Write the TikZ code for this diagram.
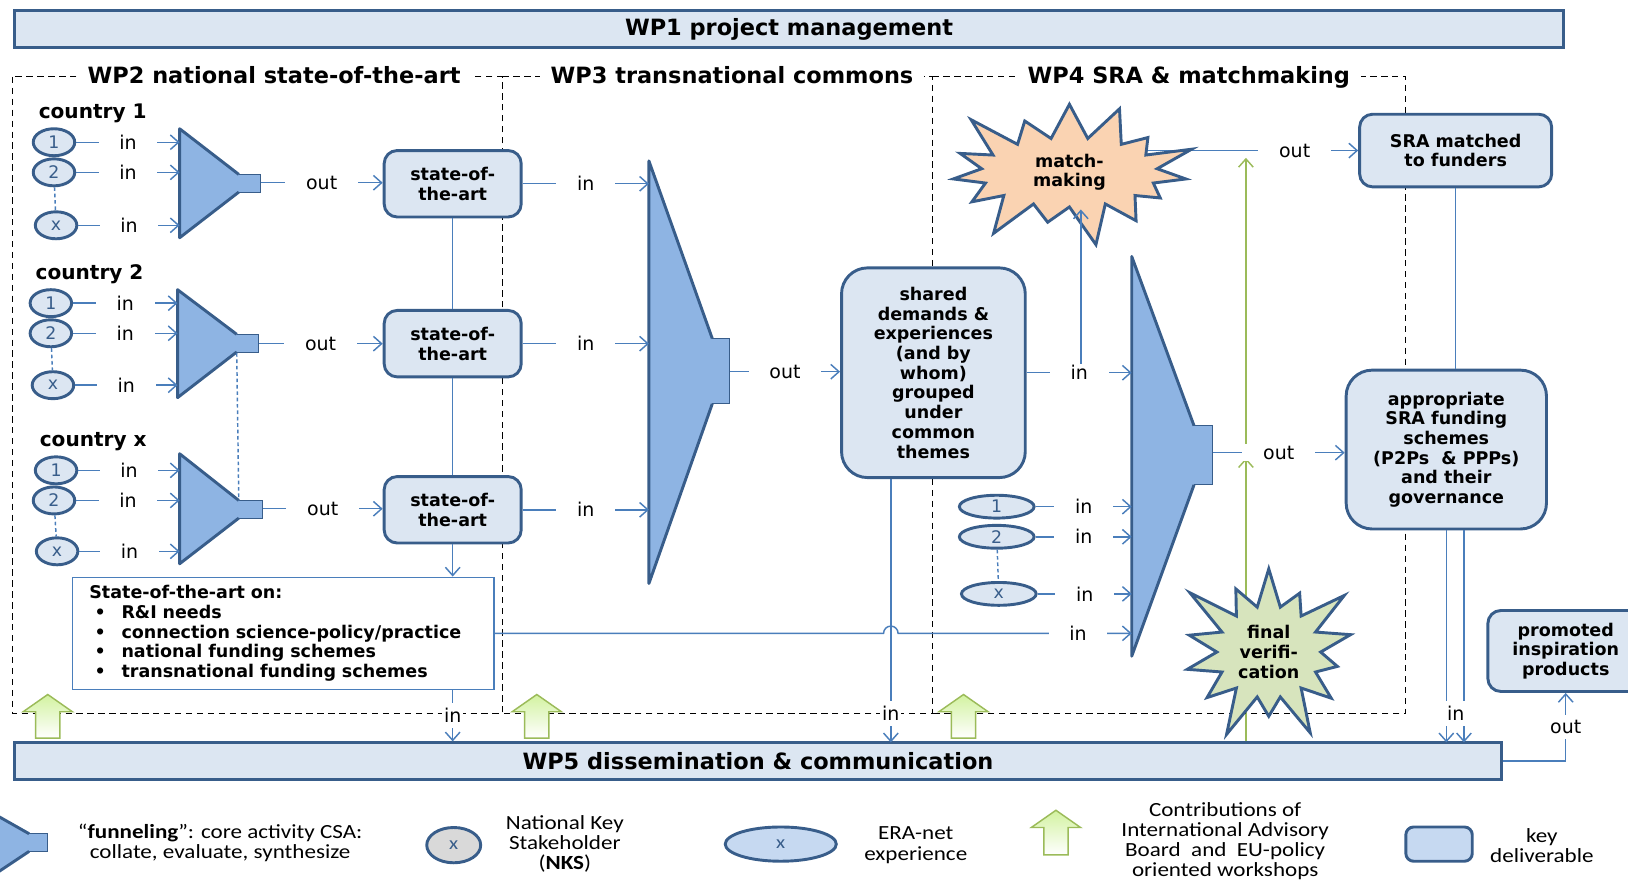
\documentclass[tikz,border=0pt]{standalone}
\usepackage{fontspec}
\setmainfont{DejaVu Sans}
\newfontfamily\legendfont[FakeStretch=1.15]{Carlito}
\usetikzlibrary{shapes.geometric,shapes.symbols,shapes.arrows,arrows.meta,backgrounds}

\definecolor{darkb}{HTML}{385D8A}
\definecolor{lightb}{HTML}{DCE6F2}
\definecolor{funb}{HTML}{8EB4E3}
\definecolor{lineb}{HTML}{4A7EBB}
\definecolor{peach}{HTML}{FAD3B2}
\definecolor{sage}{HTML}{D7E4BD}
\definecolor{grn}{HTML}{9BBB59}
\definecolor{lightgrn}{HTML}{D2F2A0}
\definecolor{legb}{HTML}{C6D9F1}
\definecolor{nksgray}{HTML}{D9D9D9}

\tikzset{
  frame/.style={draw=black, line width=0.7pt, dash pattern=on 3.5pt off 2.5pt},
  frametitle/.style={fill=white, inner xsep=6pt, inner ysep=1pt, text height=1.6ex, text depth=0.3ex, font=\fontsize{12.3}{14}\selectfont\bfseries},
  wpbar/.style={draw=darkb, fill=lightb, line width=1.6pt, minimum height=0.7cm, font=\fontsize{12.3}{14}\selectfont\bfseries},
  deliv/.style={draw=darkb, fill=lightb, line width=1.6pt, rounded corners=0.25cm, align=center, font=\fontsize{9.6}{10.8}\selectfont\bfseries},
  nks/.style={ellipse, draw=darkb, fill=lightb, line width=1.6pt, minimum width=0.8cm, minimum height=0.52cm, inner sep=0pt, text=darkb, font=\fontsize{9.5}{11}\selectfont},
  era/.style={nks, minimum width=1.44cm, minimum height=0.44cm},
  cty/.style={anchor=west, inner sep=0pt, font=\fontsize{11}{13}\selectfont\bfseries},
  plain/.style={draw=lineb, line width=0.8pt},
  conn/.style={plain, -{Straight Barb[length=4.5pt, width=8pt]}},
  dconn/.style={plain, dash pattern=on 2pt off 1.5pt},
  lab/.style={fill=white, inner xsep=0.4cm, inner ysep=1pt, font=\fontsize{10.4}{12}\selectfont},
  labv/.style={lab, inner xsep=1pt, inner ysep=3pt},
  funline/.style={draw=darkb, line width=1.6pt, line join=round},
  neckline/.style={draw=darkb, line width=0.5pt},
  burst/.style={starburst, draw=darkb, line width=1.6pt, align=center, font=\fontsize{9.6}{10.8}\selectfont\bfseries},
  gconn/.style={draw=grn, line width=0.8pt, -{Straight Barb[length=4.5pt, width=8pt]}},
  garrow/.style={single arrow, shape border rotate=90, draw=grn, line width=0.8pt, top color=lightgrn, bottom color=white, inner sep=0.22cm, single arrow head extend=0.24cm, minimum height=0.84cm, single arrow tip angle=110},
  sotabox/.style={draw=lineb, line width=0.8pt, fill=white, align=left, text width=7.48cm, inner xsep=0.32cm, minimum height=2.16cm, font=\fontsize{9.6}{10.8}\selectfont\bfseries},
  lgtext/.style={align=center, font=\legendfont\fontsize{11}{11}\selectfont},
}

\begin{document}
\begin{tikzpicture}[x=0.02cm, y=-0.02cm]
\useasboundingbox (0,0) rectangle (1568,847);

% work packages
\draw[frame] (12,74) rectangle (484,687);
\draw[frame] (484,74) -- (898,74) -- (898,687) -- (484,687);
\draw[frame] (898,74) -- (1354,74) -- (1354,687) -- (898,687);
\node[frametitle] (t2) at (264,74) {WP2 national state-of-the-art};
\node[frametitle] (t3) at (705,74) {WP3 transnational commons};
\node[frametitle] (t4) at (1145,74) {WP4 SRA \& matchmaking};

\node[wpbar, minimum width=29.84cm] (wp1) at (760,28) {WP1 project management};
\node[wpbar, minimum width=28.64cm] (wp5) at (730,733) {WP5 dissemination \& communication};

% country 1
\node[cty] (c1) at (37,109) {country 1};
\node[nks] (k1a) at (52,137) {1};
\node[nks] (k1b) at (52,166) {2};
\node[nks] (k1x) at (54,217) {x};
\draw[dconn] (k1b) -- (k1x);
\coordinate (fl1) at (173,176);
\coordinate (nk1) at (251,176);
\fill[funb] (173,124) -- (230,168) -- (251,168) -- (251,185) -- (230,185) -- (173,229) -- cycle;
\draw[neckline] (230,168) -- (251,168) -- (251,185) -- (230,185);
\draw[funline] (230,168) -- (173,124) -- (173,229) -- (230,185);
\draw[conn] (k1a) -- node[lab]{in} (k1a -| fl1);
\draw[conn] (k1b) -- node[lab]{in} (k1b -| fl1);
\draw[conn] (k1x) -- node[lab]{in} (k1x -| fl1);
\node[deliv, minimum width=2.64cm, minimum height=1.28cm] (sa1) at (436,177) {state-of-\\the-art};
\draw[conn] (nk1) -- node[lab]{out} (nk1 -| sa1.west);

% country 2
\node[cty] (c2) at (34,264) {country 2};
\node[nks] (k2a) at (49,292) {1};
\node[nks] (k2b) at (49,321) {2};
\node[nks] (k2x) at (51,371) {x};
\draw[dconn] (k2b) -- (k2x);
\coordinate (fl2) at (171,331);
\coordinate (nk2) at (249,331);
\fill[funb] (171,279) -- (228,322) -- (249,322) -- (249,339) -- (228,339) -- (171,383) -- cycle;
\draw[neckline] (228,322) -- (249,322) -- (249,339) -- (228,339);
\draw[funline] (228,322) -- (171,279) -- (171,383) -- (228,339);
\draw[conn] (k2a) -- node[lab]{in} (k2a -| fl2);
\draw[conn] (k2b) -- node[lab]{in} (k2b -| fl2);
\draw[conn] (k2x) -- node[lab]{in} (k2x -| fl2);
\node[deliv, minimum width=2.64cm, minimum height=1.28cm] (sa2) at (436,331) {state-of-\\the-art};
\draw[conn] (nk2) -- node[lab]{out} (nk2 -| sa2.west);

% country x
\node[cty] (cx) at (38,425) {country x};
\node[nks] (kxa) at (54,453) {1};
\node[nks] (kxb) at (52,482) {2};
\node[nks] (kxx) at (55,531) {x};
\draw[dconn] (kxb) -- (kxx);
\coordinate (flx) at (173,490);
\coordinate (nkx) at (253,490);
\fill[funb] (173,437) -- (230,482) -- (253,482) -- (253,499) -- (230,499) -- (173,543) -- cycle;
\draw[neckline] (230,482) -- (253,482) -- (253,499) -- (230,499);
\draw[funline] (230,482) -- (173,437) -- (173,543) -- (230,499);
\draw[conn] (kxa) -- node[lab]{in} (kxa -| flx);
\draw[conn] (kxb) -- node[lab]{in} (kxb -| flx);
\draw[conn] (kxx) -- node[lab]{in} (kxx -| flx);
\node[deliv, minimum width=2.64cm, minimum height=1.28cm] (sa3) at (436,491) {state-of-\\the-art};
\draw[conn] (nkx) -- node[lab]{out} (nkx -| sa3.west);

\coordinate (d2) at (228,340);
\coordinate (dx) at (230,482);
\draw[dconn] (d2) -- (dx);
\draw[plain] (sa1) -- (sa2);
\draw[plain] (sa2) -- (sa3);

\node[sotabox] (sota) at (273,610) {State-of-the-art on:\\
\hspace*{0.1cm}\makebox[0.52cm][l]{\textbullet}R\&I needs\\
\hspace*{0.1cm}\makebox[0.52cm][l]{\textbullet}connection science-policy/practice\\
\hspace*{0.1cm}\makebox[0.52cm][l]{\textbullet}national funding schemes\\
\hspace*{0.1cm}\makebox[0.52cm][l]{\textbullet}transnational funding schemes};
\draw[conn] (sa3.south) -- (sa3.south |- sota.north);
\draw[conn] (sota.south -| sa3) -- node[labv]{in} (wp5.north -| sa3);

% WP3 funnel
\coordinate (fl3) at (625,358);
\coordinate (nk3) at (703,358);
\fill[funb] (625,155) -- (686,326) -- (703,326) -- (703,389) -- (686,389) -- (625,562) -- cycle;
\draw[neckline] (686,326) -- (703,326) -- (703,389) -- (686,389);
\draw[funline] (686,326) -- (625,155) -- (625,562) -- (686,389);
\draw[conn] (sa1.east) -- node[lab]{in} (sa1.east -| fl3);
\draw[conn] (sa2.east) -- node[lab]{in} (sa2.east -| fl3);
\draw[conn] (sa3.east) -- node[lab]{in} (sa3.east -| fl3);

\node[deliv, rounded corners=0.5cm, minimum width=3.54cm, minimum height=4.04cm] (sh) at (899,359) {shared\\demands \&\\experiences\\(and by\\whom)\\grouped\\under\\common\\themes};
\draw[conn] (nk3) -- node[lab]{out} (nk3 -| sh.west);
\coordinate (shd) at (858,715);
\draw[conn] (sh.south -| shd) -- node[labv, pos=0.89]{in} (shd);

% WP4 funnel
\coordinate (fl4) at (1090,436);
\coordinate (nk4) at (1168,436);
\fill[funb] (1090,247) -- (1150,410) -- (1168,410) -- (1168,467) -- (1150,467) -- (1090,632) -- cycle;
\draw[neckline] (1150,410) -- (1168,410) -- (1168,467) -- (1150,467);
\draw[funline] (1150,410) -- (1090,247) -- (1090,632) -- (1150,467);

\node[burst, fill=peach, minimum width=5.2cm, minimum height=2.0cm, starburst points=15, starburst point height=0.9cm] (mm) at (1030,166) {match-\\making};
\coordinate (mmup) at (1041,359);
\draw[conn] (mmup) -- (mmup |- mm.south);
\draw[conn] (sh.east) -- node[lab]{in} (sh.east -| fl4);

\node[era] (e1) at (960,488) {1};
\node[era] (e2) at (960,517) {2};
\node[era] (ex) at (962,572) {x};
\draw[dconn] (e2) -- (ex);
\draw[conn] (e1) -- node[lab]{in} (e1 -| fl4);
\draw[conn] (e2) -- node[lab]{in} (e2 -| fl4);
\draw[conn] (ex) -- node[lab]{in} (ex -| fl4);
\draw[conn] (sota.east) -- (851,610) arc[start angle=180, end angle=360, radius=7] -- node[lab, pos=0.77]{in} (sota.east -| fl4);

\node[deliv, minimum width=3.7cm, minimum height=1.4cm] (sra) at (1402,145) {SRA matched\\to funders};
\node[deliv, rounded corners=0.5cm, minimum width=3.86cm, minimum height=3.06cm] (app) at (1393,433) {appropriate\\SRA funding\\schemes\\(P2Ps\ \ \& PPPs)\\and their\\governance};
\draw[plain] (sra.south) -- (sra.south |- app.north);
\draw[conn] (nk4) -- node[lab]{out} (nk4 -| app.west);
\coordinate (ap1) at (1393,715);
\coordinate (ap2) at (1410,715);
\draw[conn] (app.south -| ap1) -- (ap1);
\draw[conn] (app.south -| ap2) -- (ap2);
\node[labv] (apin) at (1402,687) {in};

\node[burst, fill=sage, minimum width=4.0cm, minimum height=2.7cm, starburst points=14, starburst point height=1cm] (fv) at (1222,628) {final\\verifi-\\cation};
\coordinate (gx) at (1200,436);

\node[deliv, minimum width=3cm, minimum height=1.56cm] (prom) at (1508,627) {promoted\\inspiration\\products};
\draw[conn] (wp5.east) -- (wp5.east -| prom.south) -- node[labv]{out} (prom.south);

% contributions
\node[garrow] (ga1) at (46,694) {};
\node[garrow] (ga2) at (517,694) {};
\node[garrow] (ga3) at (928,694) {};

\begin{scope}[on background layer]
\draw[conn] (mm.center |- sra.west) -- node[lab, pos=0.78]{out} (sra.west);
\draw[gconn, shorten >=3pt] (fv.center -| gx) -- (gx);
\draw[gconn, shorten <=3pt, shorten >=4pt] (gx) -- (gx |- sra.west);
\draw[draw=grn, line width=0.8pt] (fv.center -| gx) -- (wp5.north -| gx);
\end{scope}

% legend
\fill[funb] (-2,786) -- (28,803) -- (46,803) -- (46,820) -- (28,820) -- (-2,840) -- cycle;
\draw[neckline] (28,803) -- (46,803) -- (46,820) -- (28,820);
\draw[funline] (28,803) -- (-2,786);
\draw[funline] (28,820) -- (-2,840);
\node[lgtext] (lfun) at (212,812) {“\textbf{funneling}”: core activity CSA:\\collate, evaluate, synthesize};
\node[nks, fill=nksgray, minimum width=1.04cm, minimum height=0.68cm, font=\legendfont\fontsize{10}{12}\selectfont] (lnks) at (437,814) {x};
\node[lgtext] (lnkst) at (544,813) {National Key\\Stakeholder\\(\textbf{NKS})};
\node[nks, fill=legb, minimum width=2.14cm, minimum height=0.66cm, font=\legendfont\fontsize{10}{12}\selectfont] (lera) at (752,813) {x};
\node[lgtext] (lerat) at (882,814) {ERA-net\\experience};
\node[garrow, minimum height=0.86cm] (lga) at (1017,806) {};
\node[lgtext] (lgat) at (1180,810) {Contributions of\\International Advisory\\Board\ \ and\ \ EU-policy\\oriented workshops};
\node[deliv, fill=legb, minimum width=1.28cm, minimum height=0.66cm, rounded corners=0.15cm] (ldel) at (1386,813) {};
\node[lgtext] (ldelt) at (1485,814) {key\\deliverable};
\end{tikzpicture}
\end{document}
